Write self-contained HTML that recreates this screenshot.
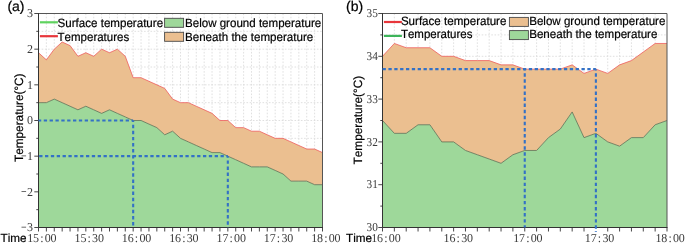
<!DOCTYPE html>
<html><head><meta charset="utf-8"><title>chart</title>
<style>html,body{margin:0;padding:0;background:#fff}svg{display:block;will-change:transform}text{text-rendering:geometricPrecision;font-kerning:none}</style></head>
<body>
<svg width="685" height="244" viewBox="0 0 685 244">
<rect width="685" height="244" fill="#fff"/>
<path d="M46.39 13.5V227.5M54.28 13.5V227.5M62.17 13.5V227.5M70.06 13.5V227.5M77.94 13.5V227.5M85.83 13.5V227.5M93.72 13.5V227.5M101.61 13.5V227.5M109.5 13.5V227.5M117.39 13.5V227.5M125.28 13.5V227.5M133.17 13.5V227.5M141.06 13.5V227.5M148.94 13.5V227.5M156.83 13.5V227.5M164.72 13.5V227.5M172.61 13.5V227.5M180.5 13.5V227.5M188.39 13.5V227.5M196.28 13.5V227.5M204.17 13.5V227.5M212.06 13.5V227.5M219.94 13.5V227.5M227.83 13.5V227.5M235.72 13.5V227.5M243.61 13.5V227.5M251.5 13.5V227.5M259.39 13.5V227.5M267.28 13.5V227.5M275.17 13.5V227.5M283.06 13.5V227.5M290.94 13.5V227.5M298.83 13.5V227.5M306.72 13.5V227.5M314.61 13.5V227.5M38.5 209.67H322.5M38.5 191.83H322.5M38.5 174H322.5M38.5 156.17H322.5M38.5 138.33H322.5M38.5 120.5H322.5M38.5 102.67H322.5M38.5 84.83H322.5M38.5 67H322.5M38.5 49.17H322.5M38.5 31.33H322.5" fill="none" stroke="#d8d8d8" stroke-width="0.8" stroke-dasharray="1.6 1.6"/>
<polygon points="38.5,52.73 46.39,59.87 54.28,49.17 62.17,42.03 70.06,45.6 77.94,56.3 85.83,52.73 93.72,56.3 101.61,49.17 109.5,52.73 117.39,49.17 125.28,56.3 133.17,77.7 141.06,77.7 148.94,81.27 156.83,84.83 164.72,88.4 172.61,99.1 180.5,102.67 188.39,102.67 196.28,106.23 204.17,109.8 212.06,113.37 219.94,120.5 227.83,120.5 235.72,127.63 243.61,127.63 251.5,131.2 259.39,131.2 267.28,134.77 275.17,138.33 283.06,138.33 290.94,141.9 298.83,145.47 306.72,149.03 314.61,149.03 322.5,152.6 322.5,184.7 314.61,184.7 306.72,181.13 298.83,181.13 290.94,181.13 283.06,174 275.17,170.43 267.28,166.87 259.39,166.87 251.5,166.87 243.61,163.3 235.72,159.73 227.83,156.17 219.94,152.6 212.06,152.6 204.17,149.03 196.28,145.47 188.39,141.9 180.5,138.33 172.61,131.2 164.72,134.77 156.83,127.63 148.94,124.07 141.06,120.5 133.17,120.5 125.28,116.93 117.39,113.37 109.5,109.8 101.61,113.37 93.72,109.8 85.83,106.23 77.94,109.8 70.06,106.23 62.17,102.67 54.28,99.1 46.39,102.67 38.5,102.67" fill="#EBBF90"/>
<polygon points="38.5,102.67 46.39,102.67 54.28,99.1 62.17,102.67 70.06,106.23 77.94,109.8 85.83,106.23 93.72,109.8 101.61,113.37 109.5,109.8 117.39,113.37 125.28,116.93 133.17,120.5 141.06,120.5 148.94,124.07 156.83,127.63 164.72,134.77 172.61,131.2 180.5,138.33 188.39,141.9 196.28,145.47 204.17,149.03 212.06,152.6 219.94,152.6 227.83,156.17 235.72,159.73 243.61,163.3 251.5,166.87 259.39,166.87 267.28,166.87 275.17,170.43 283.06,174 290.94,181.13 298.83,181.13 306.72,181.13 314.61,184.7 322.5,184.7 322.5,227.5 38.5,227.5" fill="#9ED89A"/>
<polyline points="38.5,52.73 46.39,59.87 54.28,49.17 62.17,42.03 70.06,45.6 77.94,56.3 85.83,52.73 93.72,56.3 101.61,49.17 109.5,52.73 117.39,49.17 125.28,56.3 133.17,77.7 141.06,77.7 148.94,81.27 156.83,84.83 164.72,88.4 172.61,99.1 180.5,102.67 188.39,102.67 196.28,106.23 204.17,109.8 212.06,113.37 219.94,120.5 227.83,120.5 235.72,127.63 243.61,127.63 251.5,131.2 259.39,131.2 267.28,134.77 275.17,138.33 283.06,138.33 290.94,141.9 298.83,145.47 306.72,149.03 314.61,149.03 322.5,152.6" fill="none" stroke="#EE5558" stroke-width="0.75"/>
<polyline points="38.5,102.67 46.39,102.67 54.28,99.1 62.17,102.67 70.06,106.23 77.94,109.8 85.83,106.23 93.72,109.8 101.61,113.37 109.5,109.8 117.39,113.37 125.28,116.93 133.17,120.5 141.06,120.5 148.94,124.07 156.83,127.63 164.72,134.77 172.61,131.2 180.5,138.33 188.39,141.9 196.28,145.47 204.17,149.03 212.06,152.6 219.94,152.6 227.83,156.17 235.72,159.73 243.61,163.3 251.5,166.87 259.39,166.87 267.28,166.87 275.17,170.43 283.06,174 290.94,181.13 298.83,181.13 306.72,181.13 314.61,184.7 322.5,184.7" fill="none" stroke="#5f6d50" stroke-width="0.8"/>
<path d="M38.5 13.5H322.5V227.5" fill="none" stroke="#555" stroke-width="1"/>
<path d="M38.5 13.5V227.5H322.5" fill="none" stroke="#333" stroke-width="1" stroke-linecap="square"/>
<path d="M38.5 227.5v4M46.39 227.5v4M54.28 227.5v4M62.17 227.5v4M70.06 227.5v4M77.94 227.5v4M85.83 227.5v4M93.72 227.5v4M101.61 227.5v4M109.5 227.5v4M117.39 227.5v4M125.28 227.5v4M133.17 227.5v4M141.06 227.5v4M148.94 227.5v4M156.83 227.5v4M164.72 227.5v4M172.61 227.5v4M180.5 227.5v4M188.39 227.5v4M196.28 227.5v4M204.17 227.5v4M212.06 227.5v4M219.94 227.5v4M227.83 227.5v4M235.72 227.5v4M243.61 227.5v4M251.5 227.5v4M259.39 227.5v4M267.28 227.5v4M275.17 227.5v4M283.06 227.5v4M290.94 227.5v4M298.83 227.5v4M306.72 227.5v4M314.61 227.5v4M322.5 227.5v4M38.5 227.5h-4.2M38.5 209.67h-2.2M38.5 191.83h-4.2M38.5 174h-2.2M38.5 156.17h-4.2M38.5 138.33h-2.2M38.5 120.5h-4.2M38.5 102.67h-2.2M38.5 84.83h-4.2M38.5 67h-2.2M38.5 49.17h-4.2M38.5 31.33h-2.2M38.5 13.5h-4.2" fill="none" stroke="#333" stroke-width="0.9"/>
<path d="M133.17 120.5H38.5" fill="none" stroke="#3371C6" stroke-width="2.1" stroke-dasharray="3.3 2.55" stroke-dashoffset="1.65"/>
<path d="M133.17 120.5V227.5" fill="none" stroke="#3371C6" stroke-width="2.1" stroke-dasharray="3.45 2.63" stroke-dashoffset="1.85"/>
<path d="M227.83 156.17H38.5" fill="none" stroke="#3371C6" stroke-width="2.1" stroke-dasharray="3.3 2.55" stroke-dashoffset="1.85"/>
<path d="M227.83 156.17V227.5" fill="none" stroke="#3371C6" stroke-width="2.1" stroke-dasharray="3.45 2.63" stroke-dashoffset="1.85"/>
<text x="32.9" y="231.2" text-anchor="end" font-family='"Liberation Serif", serif' font-size="12" fill="#3a3a3a">3</text>
<path d="M21.5 227.2h4.6" stroke="#444" stroke-width="0.8"/>
<text x="32.9" y="195.53" text-anchor="end" font-family='"Liberation Serif", serif' font-size="12" fill="#3a3a3a">2</text>
<path d="M21.5 191.53h4.6" stroke="#444" stroke-width="0.8"/>
<text x="32.9" y="159.87" text-anchor="end" font-family='"Liberation Serif", serif' font-size="12" fill="#3a3a3a">1</text>
<path d="M21.5 155.87h4.6" stroke="#444" stroke-width="0.8"/>
<text x="32.9" y="124.2" text-anchor="end" font-family='"Liberation Serif", serif' font-size="12" fill="#3a3a3a">0</text>
<text x="32.9" y="88.53" text-anchor="end" font-family='"Liberation Serif", serif' font-size="12" fill="#3a3a3a">1</text>
<text x="32.9" y="52.87" text-anchor="end" font-family='"Liberation Serif", serif' font-size="12" fill="#3a3a3a">2</text>
<text x="32.9" y="17.2" text-anchor="end" font-family='"Liberation Serif", serif' font-size="12" fill="#3a3a3a">3</text>
<text x="27.2 33.05 40.2 44.75 50.6" y="242.4" font-family='"Liberation Serif", serif' font-size="12" fill="#3a3a3a">15:00</text>
<text x="74.53 80.38 87.53 92.08 97.93" y="242.4" font-family='"Liberation Serif", serif' font-size="12" fill="#3a3a3a">15:30</text>
<text x="121.87 127.72 134.87 139.42 145.27" y="242.4" font-family='"Liberation Serif", serif' font-size="12" fill="#3a3a3a">16:00</text>
<text x="169.2 175.05 182.2 186.75 192.6" y="242.4" font-family='"Liberation Serif", serif' font-size="12" fill="#3a3a3a">16:30</text>
<text x="216.53 222.38 229.53 234.08 239.93" y="242.4" font-family='"Liberation Serif", serif' font-size="12" fill="#3a3a3a">17:00</text>
<text x="263.87 269.72 276.87 281.42 287.27" y="242.4" font-family='"Liberation Serif", serif' font-size="12" fill="#3a3a3a">17:30</text>
<text x="311.2 317.05 324.2 328.75 334.6" y="242.4" font-family='"Liberation Serif", serif' font-size="12" fill="#3a3a3a">18:00</text>
<text x="0.6" y="242.4" font-family='"Liberation Sans", sans-serif' font-size="11.7" fill="#000" stroke="#000" stroke-width="0.2">Time</text>
<text transform="translate(22.7 117.75) rotate(-90)" text-anchor="middle" font-family='"Liberation Sans", sans-serif' font-size="12" textLength="88.6" lengthAdjust="spacingAndGlyphs" fill="#000" stroke="#000" stroke-width="0.2">Temperature(°C)</text>
<text x="7.4" y="11" font-family='"Liberation Sans", sans-serif' font-size="14" fill="#000" stroke="#000" stroke-width="0.2">(a)</text>
<path d="M39.9 22.3h18" stroke="#5FD35F" stroke-width="2.2"/>
<path d="M39.9 36.2h18" stroke="#E8363B" stroke-width="2.2"/>
<text x="57.6" y="26.6" font-family='"Liberation Sans", sans-serif' font-size="12" textLength="105.5" lengthAdjust="spacingAndGlyphs" fill="#000" stroke="#000" stroke-width="0.2">Surface temperature</text>
<text x="57.6" y="40.5" font-family='"Liberation Sans", sans-serif' font-size="12" textLength="71.6" lengthAdjust="spacingAndGlyphs" fill="#000" stroke="#000" stroke-width="0.2">Temperatures</text>
<rect x="164.6" y="18.3" width="19" height="9" fill="#9ED89A" stroke="#4a4a4a" stroke-width="0.9"/>
<rect x="164.6" y="32.3" width="19" height="9" fill="#EBBF90" stroke="#4a4a4a" stroke-width="0.9"/>
<text x="185" y="26.6" font-family='"Liberation Sans", sans-serif' font-size="12" textLength="136.2" lengthAdjust="spacingAndGlyphs" fill="#000" stroke="#000" stroke-width="0.2">Below ground temperature</text>
<text x="185" y="40.5" font-family='"Liberation Sans", sans-serif' font-size="12" textLength="128.2" lengthAdjust="spacingAndGlyphs" fill="#000" stroke="#000" stroke-width="0.2">Beneath the temperature</text>
<path d="M394.35 13.5V227.5M406.21 13.5V227.5M418.06 13.5V227.5M429.92 13.5V227.5M441.77 13.5V227.5M453.62 13.5V227.5M465.48 13.5V227.5M477.33 13.5V227.5M489.19 13.5V227.5M501.04 13.5V227.5M512.9 13.5V227.5M524.75 13.5V227.5M536.6 13.5V227.5M548.46 13.5V227.5M560.31 13.5V227.5M572.17 13.5V227.5M584.02 13.5V227.5M595.88 13.5V227.5M607.73 13.5V227.5M619.58 13.5V227.5M631.44 13.5V227.5M643.29 13.5V227.5M655.15 13.5V227.5M382.5 206.1H667M382.5 184.7H667M382.5 163.3H667M382.5 141.9H667M382.5 120.5H667M382.5 99.1H667M382.5 77.7H667M382.5 56.3H667M382.5 34.9H667" fill="none" stroke="#d8d8d8" stroke-width="0.8" stroke-dasharray="1.6 1.6"/>
<polygon points="382.5,56.3 394.35,43.46 406.21,47.74 418.06,47.74 429.92,47.74 441.77,56.3 453.62,56.3 465.48,60.58 477.33,60.58 489.19,60.58 501.04,64.86 512.9,64.86 524.75,69.14 536.6,69.14 548.46,69.14 560.31,69.14 572.17,64.86 584.02,73.42 595.88,69.14 607.73,73.42 619.58,64.86 631.44,60.58 643.29,52.02 655.15,43.46 667,43.46 667,120.5 655.15,124.78 643.29,137.62 631.44,137.62 619.58,146.18 607.73,141.9 595.88,133.34 584.02,137.62 572.17,111.94 560.31,129.06 548.46,137.62 536.6,150.46 524.75,150.46 512.9,154.74 501.04,163.3 489.19,159.02 477.33,154.74 465.48,150.46 453.62,141.9 441.77,141.9 429.92,124.78 418.06,124.78 406.21,133.34 394.35,133.34 382.5,120.5" fill="#EBBF90"/>
<polygon points="382.5,120.5 394.35,133.34 406.21,133.34 418.06,124.78 429.92,124.78 441.77,141.9 453.62,141.9 465.48,150.46 477.33,154.74 489.19,159.02 501.04,163.3 512.9,154.74 524.75,150.46 536.6,150.46 548.46,137.62 560.31,129.06 572.17,111.94 584.02,137.62 595.88,133.34 607.73,141.9 619.58,146.18 631.44,137.62 643.29,137.62 655.15,124.78 667,120.5 667,227.5 382.5,227.5" fill="#9ED89A"/>
<polyline points="382.5,56.3 394.35,43.46 406.21,47.74 418.06,47.74 429.92,47.74 441.77,56.3 453.62,56.3 465.48,60.58 477.33,60.58 489.19,60.58 501.04,64.86 512.9,64.86 524.75,69.14 536.6,69.14 548.46,69.14 560.31,69.14 572.17,64.86 584.02,73.42 595.88,69.14 607.73,73.42 619.58,64.86 631.44,60.58 643.29,52.02 655.15,43.46 667,43.46" fill="none" stroke="#EE5558" stroke-width="0.75"/>
<polyline points="382.5,120.5 394.35,133.34 406.21,133.34 418.06,124.78 429.92,124.78 441.77,141.9 453.62,141.9 465.48,150.46 477.33,154.74 489.19,159.02 501.04,163.3 512.9,154.74 524.75,150.46 536.6,150.46 548.46,137.62 560.31,129.06 572.17,111.94 584.02,137.62 595.88,133.34 607.73,141.9 619.58,146.18 631.44,137.62 643.29,137.62 655.15,124.78 667,120.5" fill="none" stroke="#5f6d50" stroke-width="0.8"/>
<path d="M382.5 13.5H667V227.5" fill="none" stroke="#555" stroke-width="1"/>
<path d="M382.5 13.5V227.5H667" fill="none" stroke="#333" stroke-width="1" stroke-linecap="square"/>
<path d="M382.5 227.5v4M394.35 227.5v4M406.21 227.5v4M418.06 227.5v4M429.92 227.5v4M441.77 227.5v4M453.62 227.5v4M465.48 227.5v4M477.33 227.5v4M489.19 227.5v4M501.04 227.5v4M512.9 227.5v4M524.75 227.5v4M536.6 227.5v4M548.46 227.5v4M560.31 227.5v4M572.17 227.5v4M584.02 227.5v4M607.73 227.5v4M619.58 227.5v4M631.44 227.5v4M643.29 227.5v4M655.15 227.5v4M667 227.5v4M382.5 227.5h-4.2M382.5 206.1h-2.2M382.5 184.7h-4.2M382.5 163.3h-2.2M382.5 141.9h-4.2M382.5 120.5h-2.2M382.5 99.1h-4.2M382.5 77.7h-2.2M382.5 56.3h-4.2M382.5 34.9h-2.2M382.5 13.5h-4.2" fill="none" stroke="#333" stroke-width="0.9"/>
<path d="M595.88 69.14H382.5" fill="none" stroke="#3371C6" stroke-width="2.1" stroke-dasharray="3.3 2.55" stroke-dashoffset="0.6"/>
<path d="M524.75 69.14V227.5" fill="none" stroke="#3371C6" stroke-width="2.1" stroke-dasharray="3.45 2.63" stroke-dashoffset="2"/>
<path d="M595.88 69.14V231.9" fill="none" stroke="#3371C6" stroke-width="2.1" stroke-dasharray="3.45 2.63" stroke-dashoffset="2"/>
<text x="377.8" y="231.2" text-anchor="end" textLength="11.3" lengthAdjust="spacingAndGlyphs" font-family='"Liberation Serif", serif' font-size="12" fill="#3a3a3a">30</text>
<text x="377.8" y="188.4" text-anchor="end" textLength="11.3" lengthAdjust="spacingAndGlyphs" font-family='"Liberation Serif", serif' font-size="12" fill="#3a3a3a">31</text>
<text x="377.8" y="145.6" text-anchor="end" textLength="11.3" lengthAdjust="spacingAndGlyphs" font-family='"Liberation Serif", serif' font-size="12" fill="#3a3a3a">32</text>
<text x="377.8" y="102.8" text-anchor="end" textLength="11.3" lengthAdjust="spacingAndGlyphs" font-family='"Liberation Serif", serif' font-size="12" fill="#3a3a3a">33</text>
<text x="377.8" y="60" text-anchor="end" textLength="11.3" lengthAdjust="spacingAndGlyphs" font-family='"Liberation Serif", serif' font-size="12" fill="#3a3a3a">34</text>
<text x="377.8" y="17.2" text-anchor="end" textLength="11.3" lengthAdjust="spacingAndGlyphs" font-family='"Liberation Serif", serif' font-size="12" fill="#3a3a3a">35</text>
<text x="371.25 377.1 384.25 388.8 394.65" y="242.4" font-family='"Liberation Serif", serif' font-size="12" fill="#3a3a3a">16:00</text>
<text x="443.6 449.45 456.6 461.15 467" y="242.4" font-family='"Liberation Serif", serif' font-size="12" fill="#3a3a3a">16:30</text>
<text x="513.2 519.05 526.2 530.75 536.6" y="242.4" font-family='"Liberation Serif", serif' font-size="12" fill="#3a3a3a">17:00</text>
<text x="584.85 590.7 597.85 602.4 608.25" y="242.4" font-family='"Liberation Serif", serif' font-size="12" fill="#3a3a3a">17:30</text>
<text x="655.4 661.25 668.4 672.95 678.8" y="242.4" font-family='"Liberation Serif", serif' font-size="12" fill="#3a3a3a">18:00</text>
<text x="346.1" y="242.4" font-family='"Liberation Sans", sans-serif' font-size="11.7" fill="#000" stroke="#000" stroke-width="0.2">Time</text>
<text transform="translate(361.8 120.1) rotate(-90)" text-anchor="middle" font-family='"Liberation Sans", sans-serif' font-size="12" textLength="88.6" lengthAdjust="spacingAndGlyphs" fill="#000" stroke="#000" stroke-width="0.2">Temperature(°C)</text>
<text x="346" y="11" font-family='"Liberation Sans", sans-serif' font-size="14" fill="#000" stroke="#000" stroke-width="0.2">(b)</text>
<path d="M383.9 22h18" stroke="#E8363B" stroke-width="2.2"/>
<path d="M383.9 35.9h18" stroke="#3DB45A" stroke-width="2.2"/>
<text x="400.9" y="24.8" font-family='"Liberation Sans", sans-serif' font-size="12" textLength="105.5" lengthAdjust="spacingAndGlyphs" fill="#000" stroke="#000" stroke-width="0.2">Surface temperature</text>
<text x="400.9" y="38" font-family='"Liberation Sans", sans-serif' font-size="12" textLength="71.6" lengthAdjust="spacingAndGlyphs" fill="#000" stroke="#000" stroke-width="0.2">Temperatures</text>
<rect x="509.4" y="17.4" width="19" height="9" fill="#EBBF90" stroke="#4a4a4a" stroke-width="0.9"/>
<rect x="509.4" y="30.6" width="19" height="9" fill="#9ED89A" stroke="#4a4a4a" stroke-width="0.9"/>
<text x="529.2" y="24.8" font-family='"Liberation Sans", sans-serif' font-size="12" textLength="136.2" lengthAdjust="spacingAndGlyphs" fill="#000" stroke="#000" stroke-width="0.2">Below ground temperature</text>
<text x="529.2" y="38" font-family='"Liberation Sans", sans-serif' font-size="12" textLength="128.2" lengthAdjust="spacingAndGlyphs" fill="#000" stroke="#000" stroke-width="0.2">Beneath the temperature</text>
</svg>
</body></html>
